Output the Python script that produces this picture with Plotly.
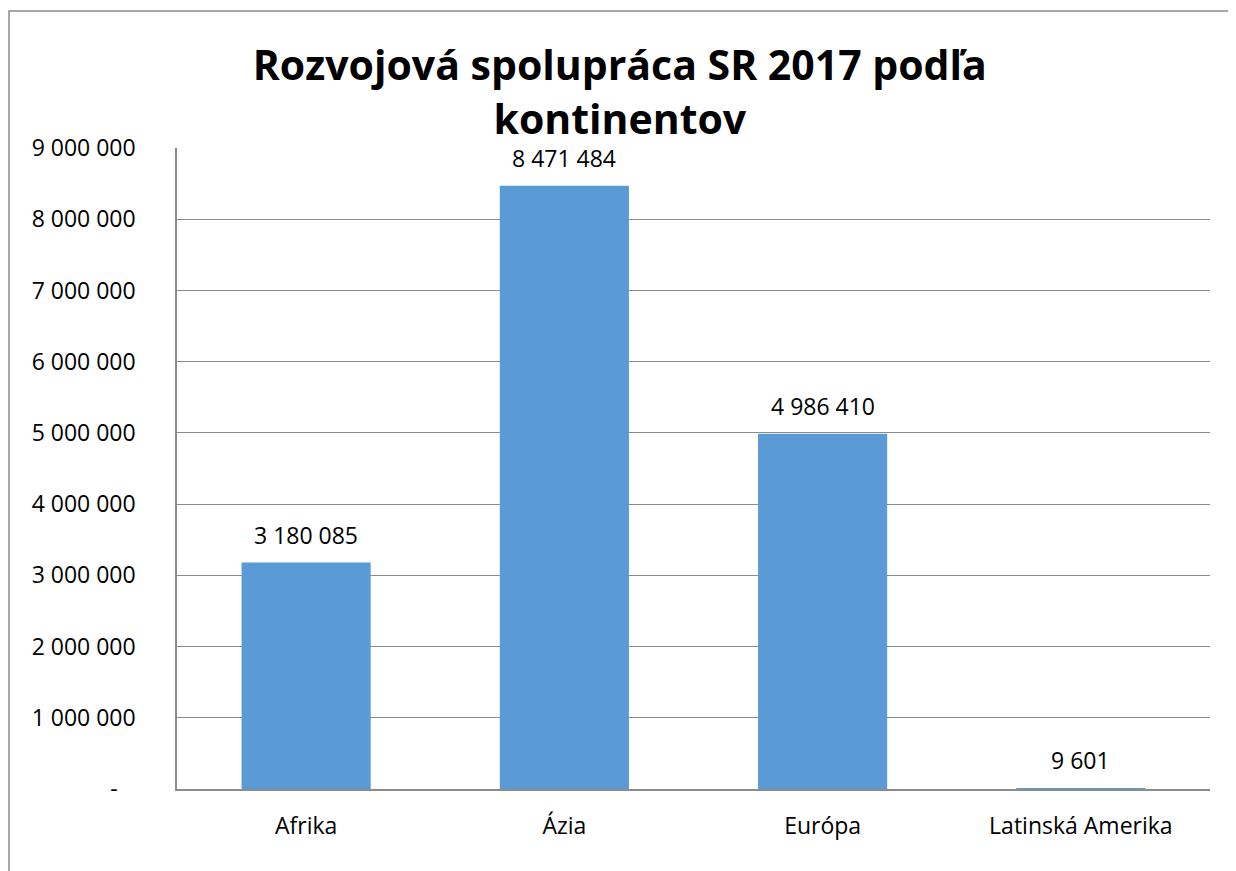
import plotly.graph_objects as go

continents = ['Afrika', 'Ázia', 'Európa', 'Latinská Amerika']
amounts = [3180085, 8471484, 4986410, 9601]
y_ticks = [0, 1000000, 2000000, 3000000, 4000000, 5000000, 6000000, 7000000, 8000000, 9000000]


def fmt(v):
    # Slovak style thousands separator (space), zero shown as dash
    return '-\u00a0\u00a0\u00a0' if v == 0 else f'{v:,}'.replace(',', ' ')


W, H = 1236, 871
# page is drawn with an 8px body offset, so margins are shifted accordingly
L, R, T, B = 169, 34, 140, 90
pw, ph = W - L - R, H - T - B

fig = go.Figure(go.Bar(
    x=continents,
    y=amounts,
    marker=dict(color='#5B9BD5', line=dict(width=0)),
    hoverinfo='x+y',
))

# value labels above bars
for c, v in zip(continents, amounts):
    fig.add_annotation(
        x=c, y=v, text=fmt(v), showarrow=False,
        yanchor='bottom', yshift=10,
        font=dict(size=23, color='#000000'),
    )

# outer chart border (extends past the right/bottom edges)
fig.add_shape(
    type='rect', xref='paper', yref='paper',
    x0=(1 - L) / pw, x1=(W + 20 - L) / pw,
    y0=(T + ph - (H + 20)) / ph, y1=(T + ph - 3) / ph,
    line=dict(color='#8c8c8c', width=1.5), fillcolor='rgba(0,0,0,0)',
    layer='below',
)

fig.update_layout(
    width=W, height=H,
    margin=dict(l=L, r=R, t=T, b=B, autoexpand=False),
    paper_bgcolor='white', plot_bgcolor='white',
    font=dict(family='Open Sans, Noto Sans, sans-serif', color='#000000'),
    title=dict(
        text='<b>Rozvojová spolupráca SR 2017 podľa<br>kontinentov</b>',
        x=0.495, xanchor='center', y=0.917, yanchor='top',
        font=dict(size=41, color='#000000'),
    ),
    bargap=0.5,
    showlegend=False,
    xaxis=dict(
        showgrid=False, showline=True, linecolor='#8c8c8c', linewidth=1.5,
        ticks='', tickfont=dict(size=23), ticklabelstandoff=16, automargin=False,
    ),
    yaxis=dict(
        range=[0, 9000000], tickvals=y_ticks, ticktext=[fmt(v) for v in y_ticks],
        showgrid=True, gridcolor='#8c8c8c', gridwidth=1.2,
        showline=True, linecolor='#8c8c8c', linewidth=1.5,
        ticks='', tickfont=dict(size=23), ticklabelstandoff=35,
        zeroline=False, automargin=False,
    ),
)

fig.write_html('out.html')
